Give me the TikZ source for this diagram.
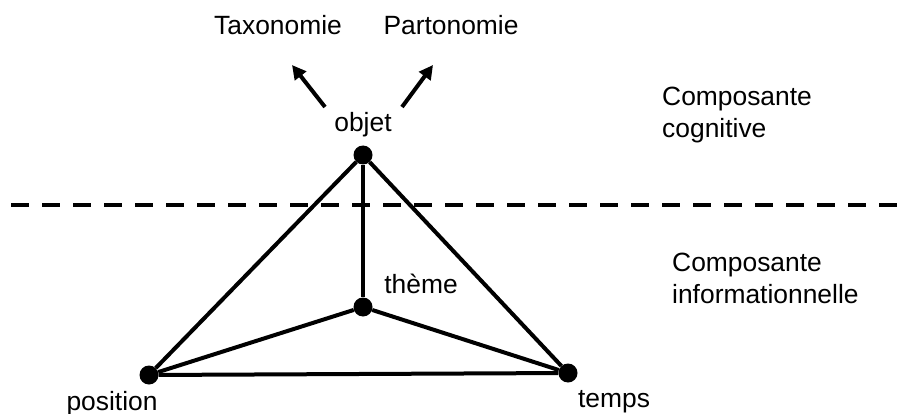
\documentclass[tikz,border=0pt]{standalone}
\usepackage{fontspec}
\setmainfont{Liberation Sans}
\usepackage{tikz}
\usetikzlibrary{arrows.meta,positioning}
\definecolor{schemaInk}{HTML}{000000}

\begin{document}
\begin{tikzpicture}[
  x=1pt, y=-1pt,
  font=\fontsize{26.4pt}{32pt}\selectfont,
  dot/.style={circle, fill=schemaInk, inner sep=0pt, minimum size=19pt},
  edge/.style={line width=4pt, draw=schemaInk},
  arrow/.style={-{Triangle[length=14pt, width=14pt]}, line width=4pt, draw=schemaInk},
  sep/.style={line width=4pt, draw=schemaInk, dash pattern=on 18pt off 13pt},
  lbl/.style={inner sep=0pt, text=schemaInk, anchor=base},
  layer/.style={inner sep=0pt, text=schemaInk, align=left, anchor=base west}
]
  \useasboundingbox (0,0) rectangle (904,414);

  % points of the tetrahedron
  \node[dot] (objet) at (363,155) {};
  \node[dot] (theme) at (363,307) {};
  \node[dot] (position) at (149,375) {};
  \node[dot] (temps) at (568,373) {};

  \node[lbl] (objetlbl) at (363,132) {objet};
  \node[lbl] (themelbl) at (421,293) {thème};
  \node[lbl] (positionlbl) at (112,410) {position};
  \node[lbl] (tempslbl) at (614,407) {temps};

  \node[lbl] (taxo) at (278,35) {Taxonomie};
  \node[lbl] (parto) at (451,35) {Partonomie};

  \node[layer] (cogn) at (662,138) {Composante\\cognitive};
  \node[layer] (info) at (672,303) {Composante\\informationnelle};

  % free ends of the two arrows and of the separator
  \coordinate (taxofrom) at (325,107);
  \coordinate (taxoto) at (292,65);
  \coordinate (partofrom) at (402,107);
  \coordinate (partoto) at (433,65);
  \coordinate (sepleft) at (11,205);
  \coordinate (sepright) at (897,205);

  \draw[sep] (sepleft) -- (sepright);

  \draw[arrow] (taxofrom) -- (taxoto);
  \draw[arrow] (partofrom) -- (partoto);

  \draw[edge] (objet) -- (position);
  \draw[edge] (objet) -- (temps);
  \draw[edge] (objet) -- (theme);
  \draw[edge] (theme) -- (position);
  \draw[edge] (theme) -- (temps);
  \draw[edge] (position) -- (temps);
\end{tikzpicture}
\end{document}
